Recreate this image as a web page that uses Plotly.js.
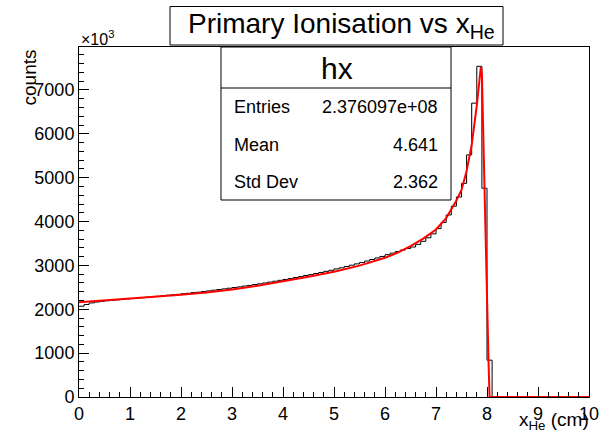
<!DOCTYPE html>
<html>
<head>
<meta charset="utf-8">
<script src="https://cdn.plot.ly/plotly-3.0.1.min.js"></script>
<style>html,body{margin:0;padding:0;background:#fff;}#chart{width:602px;height:431px;}</style>
</head>
<body>
<div id="chart"></div>
<script>
// Histogram "hx": 100 bins over 0..10 cm, counts in units of 10^3
const binLow = 0;
const binWidth = 0.1;
const counts = [
  2070, 2110, 2145, 2165, 2180, 2195, 2205, 2215, 2225, 2235,
  2245, 2255, 2265, 2275, 2285, 2295, 2305, 2320, 2330, 2340,
  2355, 2365, 2380, 2390, 2405, 2420, 2435, 2450, 2465, 2480,
  2495, 2510, 2530, 2545, 2565, 2580, 2600, 2620, 2640, 2660,
  2680, 2700, 2725, 2745, 2770, 2790, 2815, 2840, 2865, 2890,
  2920, 2945, 2975, 3005, 3035, 3065, 3100, 3135, 3170, 3205,
  3245, 3280, 3315, 3350, 3385, 3420, 3480, 3550, 3630, 3720,
  3840, 3980, 4150, 4350, 4560, 4870, 5520, 6700, 7540, 4760,
  840, 0, 0, 0, 0, 0, 0, 0, 0, 0,
  0, 0, 0, 0, 0, 0, 0, 0, 0, 0
];

// Fit curve (red)
const fitX = [0, 0.5, 1, 1.5, 2, 2.5, 3, 3.5, 4, 4.5, 5, 5.5, 6, 6.25, 6.5, 6.75, 7, 7.2, 7.4, 7.5, 7.6, 7.7, 7.8, 7.85, 7.88, 7.9, 7.93, 7.96, 8.0, 8.03, 8.05, 10];
const fitY = [2160, 2200, 2240, 2285, 2330, 2385, 2450, 2535, 2635, 2740, 2855, 2995, 3175, 3290, 3440, 3610, 3820, 4080, 4480, 4720, 5150, 5750, 6650, 7150, 7530, 7350, 6000, 4200, 2300, 800, 0, 0];

const xTickVals = [0,1,2,3,4,5,6,7,8,9,10];
const yTickVals = [0,1000,2000,3000,4000,5000,6000,7000];

const statsName = "hx";
const statsLabels = ["Entries", "Mean", "Std Dev"];
const statsValues = ["2.376097e+08", "4.641", "2.362"];

// Build step outline from the bins
const histX = [], histY = [];
for (let i = 0; i < counts.length; i++) {
  histX.push(binLow + i * binWidth);
  histY.push(counts[i]);
}
histX.push(binLow + counts.length * binWidth);
histY.push(counts[counts.length - 1]);

const FONT = "Liberation Sans, Arial, Helvetica, sans-serif";

const traces = [
  {x: histX, y: histY, type: 'scatter', mode: 'lines', line: {shape: 'hv', color: '#000', width: 1}, hoverinfo: 'skip'},
  {x: fitX, y: fitY, type: 'scatter', mode: 'lines', line: {color: '#ff0000', width: 2}, hoverinfo: 'skip'}
];

// pixel -> paper helpers
const L = 79, R = 589, T = 47, B = 397;
const px = v => (v - L) / (R - L);
const py = v => (B - v) / (B - T);

const statsRowsY = [106.7, 145, 181.7];
const annotations = [
  {text: 'Primary Ionisation vs x<sub>He</sub>', xref: 'paper', yref: 'paper', x: px(341), y: py(26), xanchor: 'center', yanchor: 'middle', showarrow: false, font: {family: FONT, size: 28, color: '#000'}},
  {text: statsName, xref: 'paper', yref: 'paper', x: px(336.5), y: py(68), xanchor: 'center', yanchor: 'middle', showarrow: false, font: {family: FONT, size: 30, color: '#000'}},
  {text: 'counts', textangle: -90, xref: 'paper', yref: 'paper', x: px(41), y: py(48), xanchor: 'right', yanchor: 'top', showarrow: false, font: {family: FONT, size: 19, color: '#000'}},
  {text: 'x<sub>He</sub> (cm)', xref: 'paper', yref: 'paper', x: px(591), y: py(407), xanchor: 'right', yanchor: 'top', showarrow: false, font: {family: FONT, size: 19, color: '#000'}},
  {text: '×10<sup>3</sup>', xref: 'paper', yref: 'paper', x: px(79), y: py(38), xanchor: 'left', yanchor: 'middle', showarrow: false, font: {family: FONT, size: 16, color: '#000'}}
];
statsLabels.forEach((lab, i) => {
  annotations.push({text: lab, xref: 'paper', yref: 'paper', x: px(232), y: py(statsRowsY[i]), xanchor: 'left', yanchor: 'middle', showarrow: false, font: {family: FONT, size: 18, color: '#000'}});
  annotations.push({text: statsValues[i], xref: 'paper', yref: 'paper', x: px(440), y: py(statsRowsY[i]), xanchor: 'right', yanchor: 'middle', showarrow: false, font: {family: FONT, size: 18, color: '#000'}});
});

const shapes = [
  // title box
  {type: 'rect', xref: 'paper', yref: 'paper', x0: px(170), x1: px(503), y0: py(45), y1: py(6.5), fillcolor: '#fff', line: {color: '#000', width: 1}, layer: 'above'},
  // stats box
  {type: 'rect', xref: 'paper', yref: 'paper', x0: px(221), x1: px(451), y0: py(200), y1: py(47), fillcolor: '#fff', line: {color: '#000', width: 1}, layer: 'above'},
  {type: 'line', xref: 'paper', yref: 'paper', x0: px(221), x1: px(451), y0: py(88), y1: py(88), line: {color: '#000', width: 1}, layer: 'above'}
];

const layout = {
  width: 602, height: 431,
  margin: {l: L, r: 602 - R, t: T, b: 431 - B, pad: 0},
  paper_bgcolor: '#fff', plot_bgcolor: '#fff',
  showlegend: false,
  font: {family: FONT, size: 18, color: '#000'},
  xaxis: {
    range: [0, 10], tickvals: xTickVals, ticktext: xTickVals.map(String),
    ticks: 'inside', ticklen: 10, tickwidth: 1, tickcolor: '#000',
    minor: {dtick: 0.2, ticks: 'inside', ticklen: 5, tickwidth: 1, tickcolor: '#000', showgrid: false},
    showgrid: false, zeroline: false, showline: true, linecolor: '#000', linewidth: 1, mirror: true,
    tickfont: {family: FONT, size: 18, color: '#000'}
  },
  yaxis: {
    range: [0, 7980], tickvals: yTickVals, ticktext: yTickVals.map(String),
    ticks: 'inside', ticklen: 10, tickwidth: 1, tickcolor: '#000',
    minor: {dtick: 200, ticks: 'inside', ticklen: 5, tickwidth: 1, tickcolor: '#000', showgrid: false},
    showgrid: false, zeroline: false, showline: true, linecolor: '#000', linewidth: 1, mirror: true,
    tickfont: {family: FONT, size: 18, color: '#000'}
  },
  annotations: annotations,
  shapes: shapes
};

Plotly.newPlot('chart', traces, layout, {staticPlot: true, displayModeBar: false});
</script>
</body>
</html>
